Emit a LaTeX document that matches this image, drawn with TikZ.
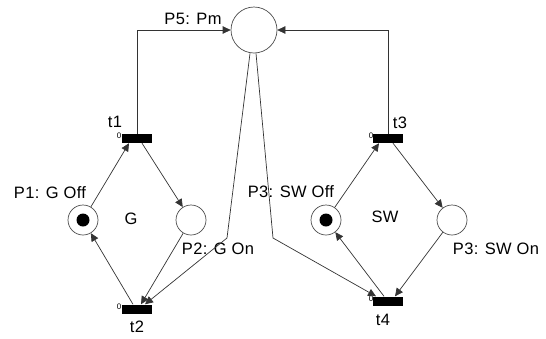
\documentclass[tikz,border=0pt]{standalone}
\usepackage{fontspec}
\setmainfont{Liberation Sans}[LetterSpace=2]
\usetikzlibrary{arrows.meta}
\begin{document}
\begin{tikzpicture}[x=1pt,y=-1pt,
  place/.style={circle,draw=black!70,line width=0.7pt,minimum size=30pt,inner sep=0pt},
  bigplace/.style={place,minimum size=46pt},
  trans/.style={rectangle,fill=black,minimum width=30pt,minimum height=9pt,inner sep=0pt},
  token/.style={circle,fill=black,minimum size=13pt,inner sep=0pt},
  arc/.style={draw=black!80,line width=0.7pt,-{Triangle[length=8pt,width=7.5pt]}},
  lbl/.style={font=\fontsize{16.5}{19}\selectfont,inner sep=0pt},
  zero/.style={font=\fontsize{8}{9}\selectfont,inner sep=0pt}]
\useasboundingbox (0,0) rectangle (546,338);
% places
\node[bigplace] (P5) at (254,30) {};
\node[place] (P1) at (83,220) {};
\node[token] (k1) at (83,220) {};
\node[place] (P2) at (191,220) {};
\node[place] (S1) at (326,220) {};
\node[token] (k2) at (326,220) {};
\node[place] (S2) at (452,220) {};
% transitions
\node[trans] (t1) at (137,138.5) {};
\node[trans] (t2) at (137,309) {};
\node[trans] (t3) at (388,138.5) {};
\node[trans] (t4) at (388,301) {};
% labels
\node[lbl] (lP5) at (193,19) {P5: Pm};
\node[lbl] (lP1) at (50,193) {P1: G Off};
\node[lbl] (lP2) at (218,249) {P2: G On};
\node[lbl] (lS1) at (291,192) {P3: SW Off};
\node[lbl] (lS2) at (496,249) {P3: SW On};
\node[lbl] (lG) at (131,219) {G};
\node[lbl] (lSW) at (385,217) {SW};
\node[lbl] (lt1) at (115,122) {t1};
\node[lbl] (lt2) at (137,327) {t2};
\node[lbl] (lt3) at (400,123) {t3};
\node[lbl] (lt4) at (383,320) {t4};
\node[zero] (z1) at (119,136) {0};
\node[zero] (z2) at (119,307) {0};
\node[zero] (z3) at (371,136) {0};
\node[zero] (z4) at (371,299) {0};
% bends
\coordinate (b1) at (227,238);
\coordinate (b2) at (273,238);
% arcs
\draw[arc] (t1) |- (P5);
\draw[arc] (t3) |- (P5);
\draw[arc] (P1) -- ([xshift=-8pt]t1.south);
\draw[arc] ([xshift=5pt]t1.south) -- (P2);
\draw[arc] (P2) -- ([xshift=4pt]t2.north);
\draw[arc] ([xshift=-4pt]t2.north) -- (P1);
\draw[arc] ([xshift=-4pt]P5.south) -- (b1) -- ([xshift=8pt]t2.north);
\draw[arc] ([xshift=2pt]P5.south) -- (b2) -- ([xshift=-12pt]t4.north);
\draw[arc] (S1) -- ([xshift=-9pt]t3.south);
\draw[arc] ([xshift=5pt]t3.south) -- (S2);
\draw[arc] (S2) -- ([xshift=7pt]t4.north);
\draw[arc] ([xshift=-4pt]t4.north) -- (S1);
\end{tikzpicture}
\end{document}
